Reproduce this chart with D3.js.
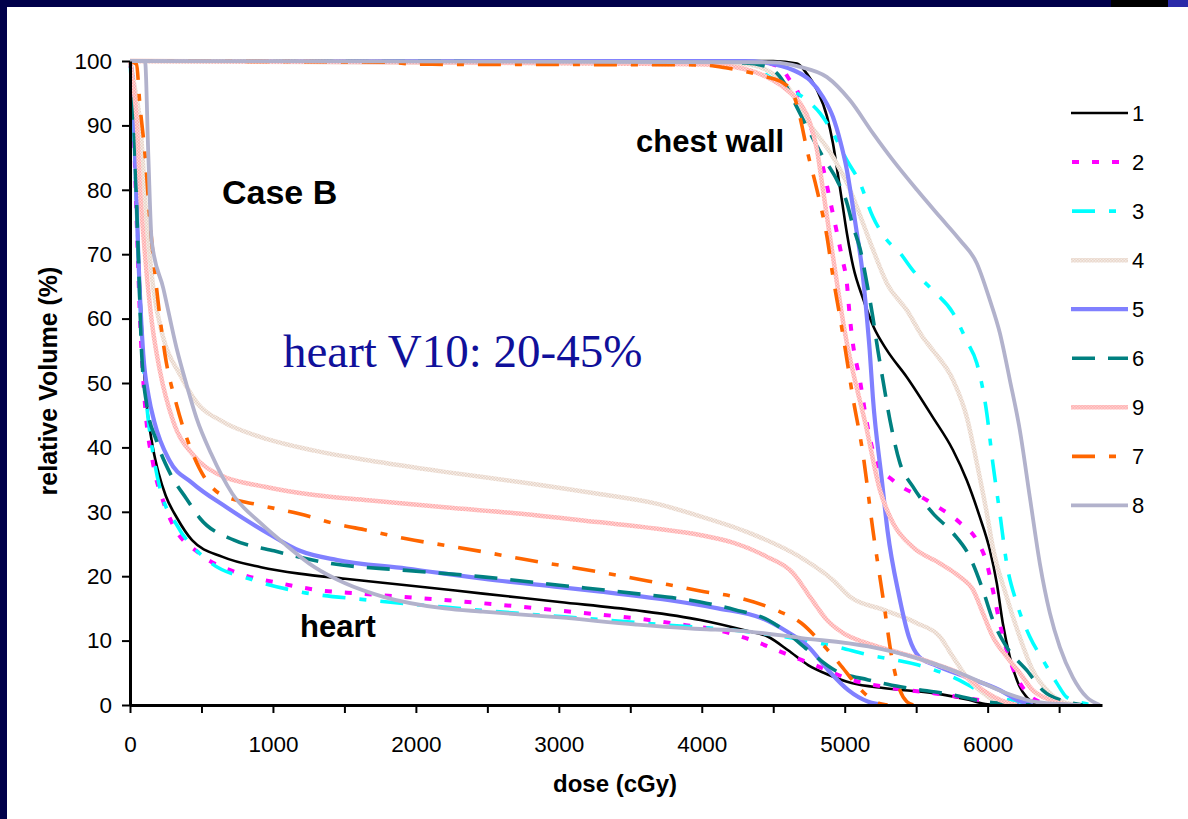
<!DOCTYPE html>
<html>
<head>
<meta charset="utf-8">
<script src="https://cdnjs.cloudflare.com/ajax/libs/d3/7.8.5/d3.min.js"></script>
<style>
body{margin:0;background:#fff;}
svg{display:block;}
.axis text{font-family:"Liberation Sans",Arial,sans-serif;font-size:22.5px;fill:#000;}
.axis path,.axis line{stroke:#000;}
.t_title{font-family:"Liberation Sans",Arial,sans-serif;font-weight:bold;fill:#000;}
.t_note{font-family:"Liberation Serif","Times New Roman",serif;fill:#10109a;}
</style>
</head>
<body>
<svg width="1188" height="819"></svg>
<script>

/* ----------------------------------------------------------
data  [dose (cGy), relative volume (%)]
---------------------------------------------------------- */

var seriesNames = ["1","2","3","4","5","6","9","7","8"];

// heart
var heart1 = [[0,100],[30,90],[60,70],[90,55],[120,46],[160,40],[200,36],[250,32.5],[330,29],[434,25.6],[648,23],[916,21.4],[1184,20.4],[1505,19.6],[1934,18.6],[2469,17.3],[3005,16],[3540,14.7],[3990,13.2],[4300,11.6],[4464,10.6],[4604,8.5],[4744,6.2],[4885,4.7],[5048,3.4],[5282,2.6],[5633,1.8],[5867,0.8],[6000,0.1],[6100,0]];
var heart2 = [[0,100],[25,90],[47,75],[70,60],[105,46.6],[163,37.3],[233,31.6],[300,28],[487,23.5],[769,20.4],[1050,18.9],[1331,17.8],[1612,17.3],[1907,16.8],[2469,15.8],[3032,14.6],[3594,13.3],[3889,12.4],[4113,11.6],[4347,10.1],[4581,8],[4814,6],[5048,3.9],[5282,2.8],[5633,1.8],[5867,1],[6101,0.3],[6250,0]];
var heart3 = [[0,100],[25,90],[50,75],[80,58],[117,46.6],[163,38.8],[210,33.6],[326,28],[541,22.5],[862,19.4],[1184,17.6],[1666,16.3],[2201,15.2],[2737,14.2],[3273,13.3],[3762,12.4],[4230,11.6],[4581,10.6],[4931,9.1],[5165,7.8],[5516,6.2],[5750,4.4],[5984,1.8],[6218,0.5],[6452,0.1],[6550,0]];
var heart4 = [[0,100],[40,95],[70,90.7],[117,75],[163,64.7],[233,57],[350,51.3],[466,47],[648,44],[916,41.6],[1291,39.5],[1666,38],[2201,36.2],[2737,34.6],[3273,32.8],[3674,31.3],[3990,29.3],[4337,26.7],[4687,23],[4918,19.4],[5037,16.8],[5268,14.8],[5505,12.7],[5666,10.6],[5757,7.5],[5854,4.3],[5966,1.9],[6085,0.3],[6200,0]];
var heart5 = [[0,100],[23,95.9],[35,85.5],[58,69.9],[93,54.4],[130,48],[170,44],[275,38],[434,34.5],[675,30.7],[969,26.6],[1184,24],[1451,22.5],[1934,21.2],[2469,19.6],[3005,18.3],[3294,17.6],[3762,16.3],[4113,15],[4417,13.5],[4581,11.6],[4744,9.1],[4885,5.4],[5025,2.3],[5165,0.5],[5282,0]];
var heart6 = [[0,100],[20,95],[35,85],[58,70],[82,54.4],[117,46.6],[186,41],[280,36],[396,32],[489,29],[728,25.6],[996,24],[1398,22],[1934,20.9],[2469,19.9],[3005,18.6],[3540,17.3],[3990,16],[4230,14.8],[4464,13.2],[4604,11.1],[4744,8.5],[4931,5.4],[5165,3.9],[5399,2.8],[5750,1.6],[5984,0.5],[6218,0.1],[6300,0]];
var heart9 = [[0,100],[30,95],[47,90.7],[70,80.3],[105,69.9],[152,59.6],[210,51.8],[303,44],[443,38.8],[629,35.7],[943,33.9],[1291,32.6],[1666,31.8],[2201,30.7],[2737,29.7],[3273,28.4],[3674,27.4],[3988,26.4],[4219,25.2],[4457,23],[4638,20.5],[4757,16.8],[4876,13.2],[4987,11.2],[5155,9.6],[5386,8.1],[5616,6.5],[5854,4.3],[5966,2.3],[6085,0.8],[6204,0]];
var heart7 = [[0,100],[45,99.5],[70,93],[105,85.5],[140,75],[186,64.7],[245,54.4],[326,46.6],[443,38.8],[629,32.8],[916,31],[1184,29.7],[1425,28.2],[1666,27.1],[1934,25.8],[2201,24.8],[2469,23.8],[2737,22.7],[3005,21.7],[3273,20.7],[3540,19.6],[3762,18.7],[3990,17.7],[4230,16.8],[4511,14.8],[4698,12.7],[4838,9.6],[4978,6],[5095,2.8],[5165,1.3],[5236,0.3],[5300,0]];
var heart8 = [[0,100],[105,100],[128,85.5],[152,72],[233,64.7],[326,55.4],[396,49.7],[466,44.5],[568,39],[716,32.8],[916,28.2],[1077,25.1],[1291,21.4],[1505,18.9],[1773,16.8],[2201,15],[2469,14.5],[3005,13.6],[3540,12.5],[3990,11.8],[4230,11.6],[4698,10.4],[5165,9.1],[5516,7.2],[5867,4.4],[6101,2.1],[6335,0.5],[6569,0.1],[6650,0]];

// chest wall
var chest1 = [[0,100],[4500,100],[4666,99.6],[4736,98],[4806,95.5],[4876,91.4],[4918,87.2],[4955,82],[4980,78.4],[5015,73.3],[5060,68],[5130,63],[5200,58.8],[5295,55.1],[5435,50.9],[5616,44.7],[5757,39.6],[5854,34.9],[5945,29.2],[6015,24.1],[6064,18.9],[6106,12.7],[6155,7.5],[6225,2.8],[6274,1.2],[6340,0]];
var chest2 = [[0,100],[4400,99.8],[4550,99],[4617,97],[4666,95.5],[4708,92.8],[4778,88.8],[4848,83.5],[4897,78.4],[4946,73.3],[4980,69.6],[5015,65.5],[5036,60.2],[5057,56.2],[5106,50.5],[5155,43.8],[5225,37.6],[5337,34.9],[5575,31.8],[5806,28.3],[5924,25.6],[5994,22],[6036,17.9],[6085,12.7],[6133,8.5],[6204,4.3],[6274,1.9],[6385,0.3],[6450,0]];
var chest3 = [[0,100],[4300,99.7],[4477,97.5],[4596,95.9],[4736,93.9],[4827,91.9],[4918,88.8],[5015,84.6],[5106,81.1],[5197,75.8],[5295,72.2],[5386,70.2],[5477,67.5],[5616,64.4],[5757,60.9],[5854,56.5],[5924,53.1],[5994,45.3],[6036,37.6],[6085,29.8],[6133,22],[6204,15.8],[6295,10.6],[6386,7],[6484,3.4],[6553,1.2],[6665,0.3],[6750,0]];
var chest4 = [[0,100],[4300,99.5],[4500,98],[4600,96],[4736,90.8],[4918,85.1],[5037,80],[5128,74.8],[5198,70.7],[5295,65.5],[5435,61.3],[5550,57],[5616,55.1],[5757,50.5],[5854,44.7],[5924,37.6],[5994,29.8],[6036,24.5],[6133,16.8],[6224,10.6],[6315,5.4],[6434,1.9],[6553,0.3],[6650,0]];
var chest5 = [[0,100],[4300,100],[4456,99.7],[4638,98.6],[4757,97],[4848,94.4],[4918,91.3],[4967,87.7],[5015,83.1],[5050,78.4],[5085,73.3],[5120,68],[5155,60.2],[5175,55],[5197,47.8],[5260,34.9],[5300,27],[5380,17],[5450,10.5],[5520,7.5],[5633,6.2],[5854,4.3],[6085,2.3],[6204,0.8],[6316,0]];
var chest6 = [[0,100],[4300,99.7],[4456,99.1],[4526,98.1],[4596,95.9],[4666,92.8],[4757,88.8],[4848,85.1],[4946,81.5],[5015,78],[5060,74.2],[5109,70.7],[5155,65.5],[5197,60.2],[5232,55.1],[5267,50.5],[5316,44.3],[5386,37.6],[5477,33.9],[5616,29.8],[5757,26.7],[5875,23],[5966,17.9],[6036,13.2],[6133,9],[6273,5.4],[6385,2.3],[6553,0.5],[6665,0]];
var chest9 = [[0,100],[2000,99.8],[3988,99.5],[4219,99.1],[4456,97.5],[4596,95.5],[4687,93.5],[4757,90.4],[4806,86.2],[4848,80],[4897,72.7],[4946,65.5],[5000,58],[5155,42.7],[5246,33.4],[5337,28.3],[5477,24.5],[5666,22],[5806,19.9],[5897,17.9],[5966,14.3],[6036,10.6],[6133,7.5],[6224,5],[6315,2.3],[6434,0.8],[6553,0]];
var chest7 = [[0,100],[1800,99.8],[2000,99.5],[3988,99.4],[4177,98.9],[4456,97.5],[4568,96.6],[4638,95],[4687,91.3],[4736,86.2],[4806,80],[4876,72.7],[4918,66.5],[4967,60.2],[5002,55.5],[5057,47.8],[5127,39.1],[5197,27.2],[5267,16.8],[5337,6.5],[5386,2.3],[5435,0.5],[5480,0]];
var chest8 = [[0,100],[4500,99.8],[4687,99.1],[4876,97.5],[5037,93.9],[5197,88.8],[5337,84.6],[5505,80],[5666,75.8],[5806,72.2],[5924,68.6],[6015,62.9],[6085,57.8],[6155,50.5],[6225,42.7],[6295,32.3],[6365,22],[6435,14.3],[6505,9],[6596,4.3],[6694,1.2],[6785,0]];

var heartList = [heart1, heart2, heart3, heart4, heart5, heart6, heart9, heart7, heart8];
var chestList = [chest1, chest2, chest3, chest4, chest5, chest6, chest9, chest7, chest8];

var xTicks = d3.range(0, 6501, 500);
var yTicks = d3.range(0, 101, 10);

/* ----------------------------------------------------------
setting
---------------------------------------------------------- */

var styles = [
	{stroke:"#000000", w:2.6, dash:null},
	{stroke:"#ff00ff", w:4, dash:"7,13"},
	{stroke:"#00ffff", w:3.6, dash:"23,14,7,14"},
	{stroke:"url(#texTan)", w:4.5, dash:null},
	{stroke:"#8080ff", w:4.2, dash:null},
	{stroke:"#008080", w:3.6, dash:"23,13"},
	{stroke:"url(#texPink)", w:4.5, dash:null},
	{stroke:"#ff6600", w:3.6, dash:"23,14,7,14"},
	{stroke:"#b2b2cc", w:3.8, dash:null}
];

var svg = d3.select("svg");

// frame
svg.append("rect").attr("x",0).attr("y",0).attr("width",1111).attr("height",7).attr("fill","#00004a");
svg.append("rect").attr("x",1111).attr("y",0).attr("width",57).attr("height",7).attr("fill","#000");
svg.append("rect").attr("x",1168).attr("y",0).attr("width",20).attr("height",7).attr("fill","#2a2aa8");
svg.append("rect").attr("x",0).attr("y",0).attr("width",7).attr("height",819).attr("fill","#00004a");

// textured strokes
var defs = svg.append("defs");
function texture(id, c1, c2){
	var p = defs.append("pattern").attr("id",id).attr("patternUnits","userSpaceOnUse")
		.attr("width",3).attr("height",3);
	p.append("rect").attr("width",3).attr("height",3).attr("fill",c1);
	p.append("rect").attr("width",1.5).attr("height",1.5).attr("fill",c2);
	p.append("rect").attr("x",1.5).attr("y",1.5).attr("width",1.5).attr("height",1.5).attr("fill",c2);
}
texture("texTan","#e6d3c6","#f7eee8");
texture("texPink","#ffaaaa","#ffd6d6");

var x = d3.scaleLinear().domain([0, 6800]).range([130, 1102]);
var y = d3.scaleLinear().domain([0, 100]).range([705, 61]);

//axis
var xAxis = d3.axisBottom(x).tickValues(xTicks).tickSize(8).tickSizeOuter(0).tickPadding(30)
	.tickFormat(function(d){ return d % 1000 == 0 ? d : ""; });
var yAxis = d3.axisLeft(y).tickValues(yTicks).tickSize(8).tickSizeOuter(0).tickPadding(10);

/* ----------------------------------------------------------
lines
---------------------------------------------------------- */
var line = d3.line()
	.x(function(d){ return x(d[0]); })
	.y(function(d){ return y(d[1]); })
	.curve(d3.curveMonotoneX);

var gLines = svg.append("g");
for (var i = 0; i < seriesNames.length; i++) {
	var st = styles[i];
	[heartList[i], chestList[i]].forEach(function(dd){
		gLines.append("path")
			.attr("d", line(dd))
			.attr("fill","none")
			.attr("stroke", st.stroke)
			.attr("stroke-width", st.w)
			.attr("stroke-dasharray", st.dash)
			.attr("stroke-linejoin","round");
	});
}

var gx = svg.append("g").attr("class","axis").attr("transform","translate(0,705)").call(xAxis);
var gy = svg.append("g").attr("class","axis").attr("transform","translate(130,0)").call(yAxis);
gx.select(".domain").attr("stroke-width",3);
gy.select(".domain").attr("stroke-width",3);
gx.selectAll(".tick line").attr("stroke-width",2);
gy.selectAll(".tick line").attr("stroke-width",2);
gx.selectAll(".tick text").attr("dy","0.4em");

//text
svg.append("text").attr("class","t_title").attr("x",615).attr("y",792)
	.attr("text-anchor","middle").style("font-size","24px").text("dose (cGy)");
svg.append("text").attr("class","t_title").attr("transform","translate(57,381) rotate(-90)")
	.attr("text-anchor","middle").style("font-size","25px").text("relative Volume (%)");
svg.append("text").attr("class","t_title").attr("x",222).attr("y",204).style("font-size","34px").text("Case B");
svg.append("text").attr("class","t_title").attr("x",636).attr("y",152).style("font-size","31px").text("chest wall");
svg.append("text").attr("class","t_title").attr("x",300).attr("y",637).style("font-size","31px").text("heart");
svg.append("text").attr("class","t_note").attr("x",283).attr("y",367).style("font-size","47px").text("heart V10: 20-45%");

/* ----------------------------------------------------------
legend
---------------------------------------------------------- */
var gLegend = svg.append("g").attr("transform","translate(1071,113)");
var legs = gLegend.selectAll(".legends")
	.data(seriesNames)
	.enter().append("g")
	.attr("class","legends")
	.attr("transform", function(d, i){ return "translate(0," + (i * 49.05) + ")"; });

legs.append("line")
	.attr("x1",0).attr("x2",57).attr("y1",0).attr("y2",0)
	.attr("stroke", function(d, i){ return styles[i].stroke; })
	.attr("stroke-width", function(d, i){ return styles[i].w; })
	.attr("stroke-dasharray", function(d, i){ return styles[i].dash; })
	.attr("stroke-dashoffset", -1);

legs.append("text")
	.attr("x",61).attr("y",8)
	.style("font-family","'Liberation Sans',Arial,sans-serif")
	.style("font-size","22px")
	.text(function(d){ return d; });

</script>
</body>
</html>
